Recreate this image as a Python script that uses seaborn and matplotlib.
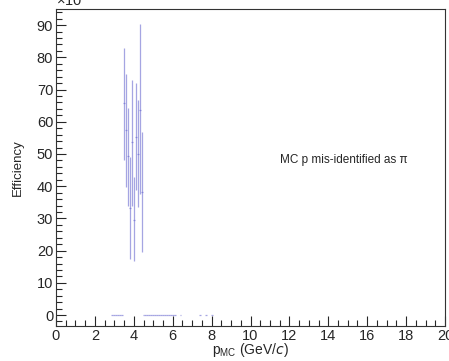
import matplotlib
matplotlib.use("Agg")
import matplotlib.pyplot as plt
import seaborn as sns
import numpy as np
from matplotlib.ticker import MultipleLocator

# ---- data (efficiency in units of 1e-3) ----
p_bins = [3.5, 3.6, 3.7, 3.8, 3.9, 4.0, 4.1, 4.2, 4.3, 4.4]
eff = [65.7, 57.3, 49.3, 33.2, 53.6, 29.5, 55.3, 50.1, 63.8, 38.2]
err_low = [17.7, 17.5, 15.3, 15.9, 19.6, 12.8, 16.6, 16.6, 26.3, 18.6]
err_high = [17.2, 17.4, 15.0, 15.9, 19.4, 13.3, 16.7, 16.5, 26.4, 18.7]
zero_bins = [2.9, 3.0, 3.1, 3.2, 3.3, 3.4,
             4.5, 4.6, 4.7, 4.8, 4.9, 5.0, 5.1, 5.2, 5.3, 5.4, 5.5, 5.6,
             5.7, 5.8, 5.9, 6.0, 6.1, 6.4, 7.4, 7.7, 8.0]
zero_eff = [0.0] * len(zero_bins)
bin_half_width = 0.05

sns.set_style("ticks")
plt.rcParams['font.family'] = ['Liberation Sans', 'DejaVu Sans']

fig = plt.figure(figsize=(4.49, 3.61), dpi=100)
ax = fig.add_axes([56/449, 1 - 326/361, (445 - 56)/449, (326 - 9)/361])

col = '#6a6ad0'
ax.errorbar(p_bins, eff, yerr=[err_low, err_high], xerr=bin_half_width,
            fmt='none', ecolor=col, elinewidth=0.9, alpha=0.6, capsize=0)
ax.errorbar(zero_bins, zero_eff, xerr=bin_half_width,
            fmt='none', ecolor=col, elinewidth=0.9, alpha=0.6, capsize=0)

ax.set_xlim(0, 20)
ax.set_ylim(-3.4, 95)
ax.xaxis.set_major_locator(MultipleLocator(2))
ax.xaxis.set_minor_locator(MultipleLocator(0.5))
ax.yaxis.set_major_locator(MultipleLocator(10))
ax.yaxis.set_minor_locator(MultipleLocator(2))
ax.tick_params(which='major', direction='in', length=7, width=0.8,
               labelsize=10.5, top=False, right=False, pad=2)
ax.tick_params(which='minor', direction='in', length=4, width=0.8,
               top=False, right=False)
for s in ax.spines.values():
    s.set_linewidth(0.8)
    s.set_color('#333333')

ax.set_xlabel(r"$\mathregular{p_{MC}}$ (GeV/$\mathit{c}$)", fontsize=10, labelpad=-1)
ax.set_ylabel("Efficiency", fontsize=9.5, labelpad=9)
ax.text(0.0, 1.0, r"$\mathregular{\times10^{-3}}$", transform=ax.transAxes,
        fontsize=10.5, ha='left', va='bottom')
ax.text(11.5, 48, "MC p mis-identified as π", fontsize=8.5, ha='left', va='center')

fig.savefig("out.png", dpi=100)
